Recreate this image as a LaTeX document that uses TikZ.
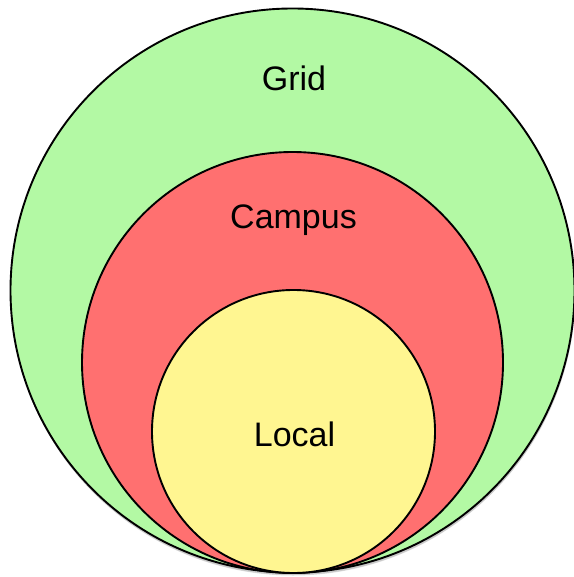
\documentclass[tikz,border=0pt]{standalone}
\usepackage{fontspec}
\setmainfont{Liberation Sans}
\begin{document}
\begin{tikzpicture}[x=1pt,y=-1pt,
  ring/.style={circle,draw=black,line width=1.9pt,inner sep=0pt,outer sep=0pt},
  lbl/.style={anchor=base,font=\fontsize{34}{40}\selectfont,inner sep=0pt}]
\definecolor{gridgreen}{RGB}{179,249,164}
\definecolor{campred}{RGB}{255,112,112}
\definecolor{localyellow}{RGB}{255,246,145}
\useasboundingbox (0,0) rectangle (573,577);
\fill[black,opacity=0.12] (293,293.5) circle[radius=282];
\fill[black,opacity=0.10] (293,292.5) circle[radius=282.5];
\node[ring,fill=gridgreen,minimum size=564pt] (grid) at (292.5,290.5) {};
\node[ring,fill=campred,minimum size=421pt] (campus) at (292.5,362.5) {};
\node[ring,fill=localyellow,minimum size=283pt] (local) at (293.5,431.5) {};
\node[lbl] (tgrid) at (294,90.5) {Grid};
\node[lbl] (tcampus) at (293.5,228.5) {Campus};
\node[lbl] (tlocal) at (294.5,446) {Local};
\end{tikzpicture}
\end{document}
